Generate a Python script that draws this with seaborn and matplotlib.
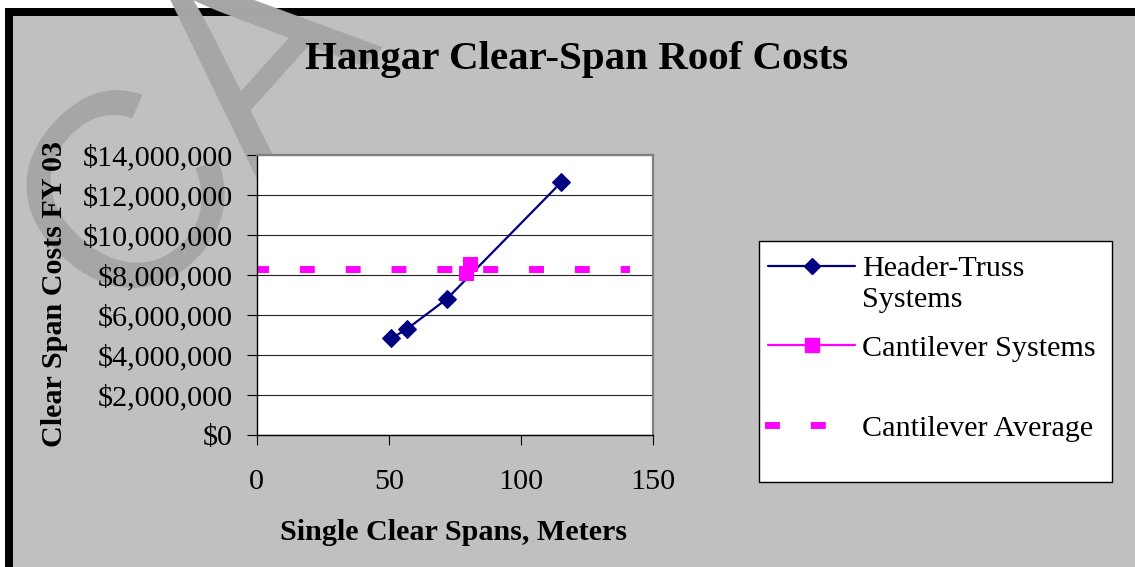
import matplotlib
matplotlib.use("Agg")
import matplotlib.pyplot as plt
import matplotlib.ticker as mticker
from matplotlib.patches import Rectangle
from matplotlib.lines import Line2D
import seaborn as sns

# values
header_span = [51.0, 56.9, 72.0, 115.3]
header_cost = [4830000, 5300000, 6800000, 12630000]
cant_span = [79.1, 80.9]
cant_cost = [8080000, 8550000]
avg_span = [0, 140]
avg_cost = [sum(cant_cost) / len(cant_cost)] * 2

labels = ["Header-Truss", "Cantilever Systems", "Cantilever Average"]
x_ticks = [0, 50, 100, 150]
y_ticks = list(range(0, 14000001, 2000000))

sns.set_style("white")
plt.rcParams["font.family"] = ["Liberation Serif", "DejaVu Serif"]
plt.rcParams["text.color"] = "black"
plt.rcParams["xtick.color"] = "black"
plt.rcParams["ytick.color"] = "black"

W, H = 1135, 567
FS = 21.7
fig = plt.figure(figsize=(W / 100, H / 100), dpi=100, facecolor="white")

# frame: black band on top/left, grey chart area
fig.patches.append(Rectangle((5 / W, -0.1), 1.2, 1 - 8 / H + 0.1, transform=fig.transFigure,
                             facecolor="black", edgecolor="none", zorder=-3))
fig.patches.append(Rectangle((13 / W, -0.1), 1.2, 1 - 15.5 / H + 0.1, transform=fig.transFigure,
                             facecolor="#C0C0C0", edgecolor="none", zorder=-2))

# watermark
fig.text(122 / W, 1 - 322 / H, "CA", rotation=48, rotation_mode="anchor", ha="left", va="baseline",
         fontsize=200, color="#A6A6A6", family="Liberation Sans", zorder=-1)

ax = fig.add_axes([256.7 / W, 1 - 435 / H, 396 / W, 280 / H])
ax.set_facecolor("white")

navy = "#000080"
magenta = "#FF00FF"

sns.lineplot(x=header_span, y=header_cost, ax=ax, color=navy, linewidth=1.6, marker="D",
             markersize=9, markeredgecolor=navy, legend=False)
sns.lineplot(x=cant_span, y=cant_cost, ax=ax, color=magenta, linewidth=1.6, marker="s",
             markersize=10.5, markeredgecolor=magenta, legend=False)
ax.plot(avg_span, avg_cost, color=magenta, linewidth=5, linestyle=(0, (1.15, 5.45)),
        dash_capstyle="projecting", zorder=1.5)

ax.set_xlim(0, 150)
ax.set_ylim(0, 14000000)
ax.set_xticks(x_ticks)
ax.set_yticks(y_ticks)
ax.yaxis.set_major_formatter(mticker.StrMethodFormatter("${x:,.0f}"))
ax.tick_params(axis="both", labelsize=FS, direction="out", length=7, width=0.8, color="black")
ax.tick_params(axis="x", pad=17.5, bottom=True)
ax.tick_params(axis="y", pad=10, left=True)
ax.grid(axis="y", color="#222222", linewidth=0.8)
ax.grid(axis="x", visible=False)
ax.set_axisbelow(True)
for side in ["left", "bottom"]:
    ax.spines[side].set_color("black")
    ax.spines[side].set_linewidth(1)
for side in ["top", "right"]:
    ax.spines[side].set_color("#808080")
    ax.spines[side].set_linewidth(1.6)
ax.set_xlabel("")
ax.set_ylabel("")

fig.text(576.5 / W, 1 - 68.5 / H, "Hangar Clear-Span Roof Costs", ha="center", va="baseline",
         fontsize=29.5, fontweight="bold")
fig.text(454 / W, 1 - 540 / H, "Single Clear Spans, Meters", ha="center", va="baseline",
         fontsize=FS, fontweight="bold")
fig.text(62 / W, 1 - 294 / H, "Clear Span Costs FY 03", ha="center", va="baseline", rotation=90,
         rotation_mode="anchor", fontsize=FS, fontweight="bold")

# legend box
fig.patches.append(Rectangle((759 / W, 1 - 482 / H), 353 / W, 241 / H, transform=fig.transFigure,
                             facecolor="white", edgecolor="black", linewidth=1, zorder=1))
h1 = Line2D([], [], color=navy, linewidth=1.6, marker="D", markersize=8, markeredgecolor=navy)
h2 = Line2D([], [], color=magenta, linewidth=1.6, marker="s", markersize=10.5, markeredgecolor=magenta)
h3 = Line2D([], [], color=magenta, linewidth=5, linestyle=(0, (1.15, 5.45)), dash_capstyle="projecting")
leg = fig.legend([h1, h2, h3], labels, loc="upper left", bbox_to_anchor=(768 / W, 1 - 255 / H),
                 frameon=False, fontsize=FS, handlelength=2.9, handletextpad=0.23,
                 labelspacing=1.75, borderpad=0, borderaxespad=0)
leg.set_zorder(2)
fig.text(862 / W, 1 - 300 / H, "Systems", ha="left", va="center", fontsize=FS, zorder=3)

fig.savefig("out.png", dpi=100)
